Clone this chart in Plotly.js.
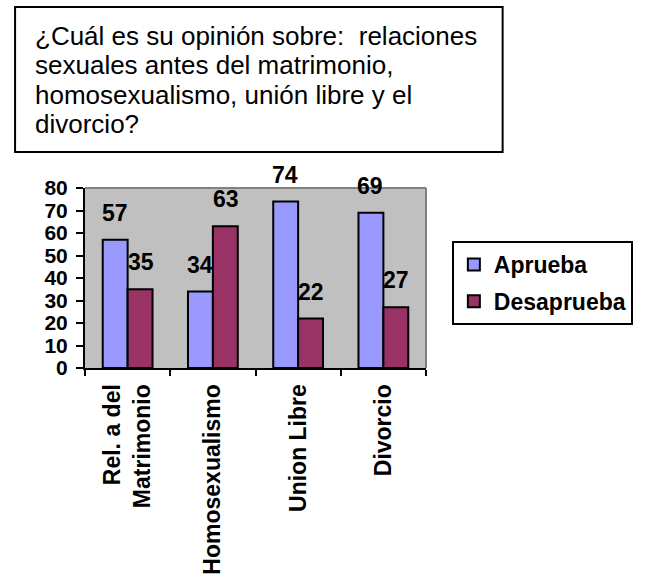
<!DOCTYPE html>
<html>
<head>
<meta charset="utf-8">
<script src="https://cdn.plot.ly/plotly-3.0.1.min.js"></script>
<style>html,body{margin:0;padding:0;background:#fff;}#chart{width:645px;height:579px;}</style>
</head>
<body>
<div id="chart"></div>
<script>
var categories = ["Rel. a del<br>Matrimonio", "Homosexualismo", "Union Libre", "Divorcio"];
var aprueba = [57, 34, 74, 69];
var desaprueba = [35, 63, 22, 27];
var seriesNames = ["Aprueba", "Desaprueba"];
var yTicks = [0, 10, 20, 30, 40, 50, 60, 70, 80];
var titleLines = [
  "¿Cuál es su opinión sobre:  relaciones",
  "sexuales antes del matrimonio,",
  "homosexualismo, unión libre y el",
  "divorcio?"
];

var FONT = "Arial, 'Liberation Sans', sans-serif";
var colors = ["#9999ff", "#993366"];
var seriesVals = [aprueba, desaprueba];

// plot area in pixels (for paper conversions)
var PL = 85, PR = 441, PT = 188, PB = 368;
function px(xp) { return (xp - PL) / (PR - PL); }
function py(yp) { return (PB - yp) / (PB - PT); }

var traces = seriesVals.map(function (vals, i) {
  return {
    type: "bar",
    name: seriesNames[i],
    legendgroup: "g" + i,
    x: categories,
    y: vals,
    marker: { color: colors[i], line: { color: "#000", width: 2 } },
    hoverinfo: "x+y"
  };
});

var annotations = [];
seriesVals.forEach(function (vals, i) {
  vals.forEach(function (v, j) {
    annotations.push({
      x: categories[j], y: v, xref: "x", yref: "y",
      text: String(v), showarrow: false,
      xshift: i === 0 ? -13 : 13, yshift: 27,
      xanchor: "center", yanchor: "middle",
      font: { family: FONT, size: 23, color: "#000", weight: "bold" }
    });
  });
});

titleLines.forEach(function (line, k) {
  annotations.push({
    xref: "paper", yref: "paper",
    x: px(31), y: py(36 + k * 29.3),
    xanchor: "left", yanchor: "middle", align: "left",
    text: line, showarrow: false,
    font: { family: FONT, size: 26, color: "#000" }
  });
});

var layout = {
  width: 645, height: 579,
  margin: { l: PL, r: 645 - PR, t: PT, b: 579 - PB },
  paper_bgcolor: "#ffffff",
  plot_bgcolor: "#c0c0c0",
  font: { family: FONT, color: "#000" },
  barmode: "group",
  bargap: 0.416,
  bargroupgap: 0,
  showlegend: true,
  legend: {
    x: px(468), xanchor: "left",
    y: py(241), yanchor: "top",
    bgcolor: "#fff", bordercolor: "#000", borderwidth: 2,
    font: { family: FONT, size: 23, color: "#000", weight: "bold" },
    traceorder: "grouped", tracegroupgap: 4,
    itemwidth: 30
  },
  xaxis: {
    type: "category",
    showline: true, linecolor: "#000", linewidth: 2,
    showgrid: false, zeroline: false,
    ticks: "outside", tickson: "boundaries", ticklen: 6, tickwidth: 2, tickcolor: "#000",
    tickangle: -90,
    ticklabelstandoff: 5,
    tickfont: { family: FONT, size: 23, color: "#000", weight: "bold" },
    fixedrange: true
  },
  yaxis: {
    range: [0, 80],
    tickvals: yTicks,
    showline: true, linecolor: "#000", linewidth: 2,
    showgrid: false, zeroline: false,
    ticks: "outside", ticklen: 7, tickwidth: 2, tickcolor: "#000",
    ticklabelstandoff: 4,
    tickfont: { family: FONT, size: 21, color: "#000", weight: "bold" },
    fixedrange: true
  },
  shapes: [
    { type: "line", xref: "paper", yref: "paper", x0: 0, x1: 1, y0: 1, y1: 1, line: { color: "#808080", width: 2 } },
    { type: "line", xref: "paper", yref: "paper", x0: 1, x1: 1, y0: 0, y1: 1, line: { color: "#808080", width: 2 } },
    { type: "rect", xref: "paper", yref: "paper",
      x0: px(12), x1: px(521),
      y0: py(152), y1: py(7),
      line: { color: "#000", width: 2 }, fillcolor: "rgba(0,0,0,0)" }
  ],
  annotations: annotations
};

Plotly.newPlot("chart", traces, layout, { displayModeBar: false, staticPlot: true });
</script>
</body>
</html>
